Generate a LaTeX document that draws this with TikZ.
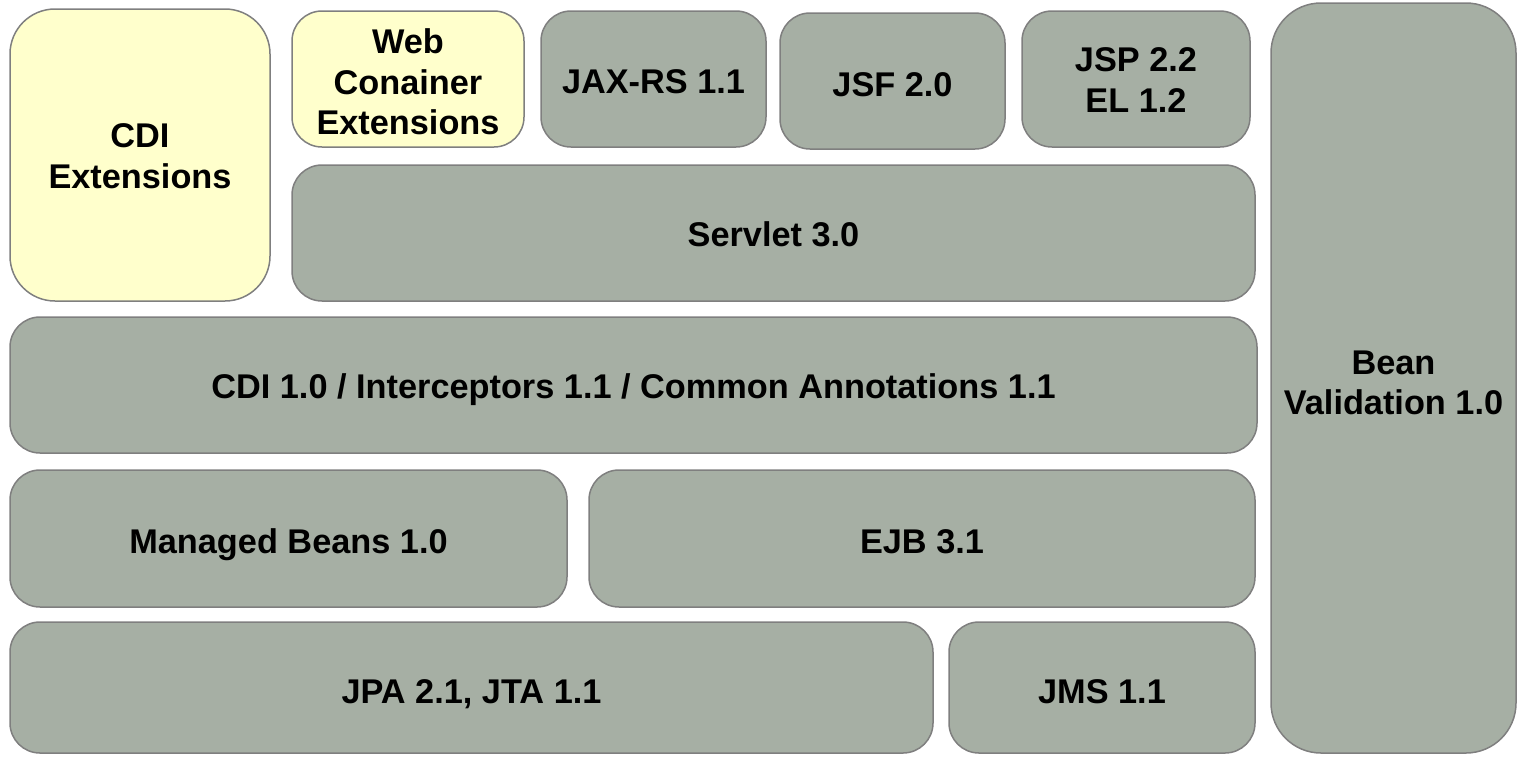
\documentclass[tikz,border=0pt]{standalone}
\usepackage{fontspec}
\setmainfont{Liberation Sans}
\definecolor{boxgray}{HTML}{A6AFA4}
\definecolor{boxyellow}{HTML}{FFFFCC}
\definecolor{edgegray}{HTML}{7F7F7F}
\begin{document}
\begin{tikzpicture}[x=1pt,y=1pt,
  blk/.style={draw=edgegray, line width=1.5pt, fill=boxgray, rounded corners=30pt,
    inner sep=0pt, outer sep=0pt},
  ext/.style={blk, fill=boxyellow},
  txt/.style={inner sep=0pt, outer sep=0pt, align=center,
    font=\bfseries\fontsize{34.3}{40.5}\selectfont},
  one/.style={txt, text height=24.6pt, text depth=0pt}]
\useasboundingbox (0,0) rectangle (1518,-756);
\node[ext, rounded corners=45pt, minimum width=260, minimum height=292,
  label={[txt, yshift=-1]center:CDI\\Extensions}] (cdiext) at (140,-155) {};
\node[ext, minimum width=232, minimum height=136,
  label={[txt, yshift=-3]center:Web\\Conainer\\Extensions}] (web) at (408,-79) {};
\node[blk, minimum width=225, minimum height=136,
  label={[one, yshift=-2]center:JAX-RS 1.1}] (jaxrs) at (653.5,-79) {};
\node[blk, minimum width=225, minimum height=136,
  label={[one, yshift=-3]center:JSF 2.0}] (jsf) at (892.5,-81) {};
\node[blk, minimum width=228, minimum height=136,
  label={[txt, yshift=-1]center:JSP 2.2\\EL 1.2}] (jsp) at (1136,-79) {};
\node[blk, minimum width=963, minimum height=136,
  label={[one, yshift=-1]center:Servlet 3.0}] (servlet) at (773.5,-233) {};
\node[blk, minimum width=1247, minimum height=136,
  label={[one, yshift=-1]center:CDI 1.0 / Interceptors 1.1 / Common Annotations 1.1}] (cdi) at (633.5,-385) {};
\node[blk, minimum width=557, minimum height=137,
  label={[one, yshift=-2.5]center:Managed Beans 1.0}] (mb) at (288.5,-538.5) {};
\node[blk, minimum width=666, minimum height=137,
  label={[one, yshift=-2.5]center:EJB 3.1}] (ejb) at (922,-538.5) {};
\node[blk, minimum width=923, minimum height=131,
  label={[one, yshift=-4]center:JPA 2.1, JTA 1.1}] (jpa) at (471.5,-687.5) {};
\node[blk, minimum width=306, minimum height=131,
  label={[one, yshift=-3.5]center:JMS 1.1}] (jms) at (1102,-687.5) {};
\node[blk, rounded corners=50pt, minimum width=245, minimum height=750,
  label={[txt, yshift=-5]center:Bean\\Validation 1.0}] (bv) at (1393.5,-378) {};
\end{tikzpicture}
\end{document}
